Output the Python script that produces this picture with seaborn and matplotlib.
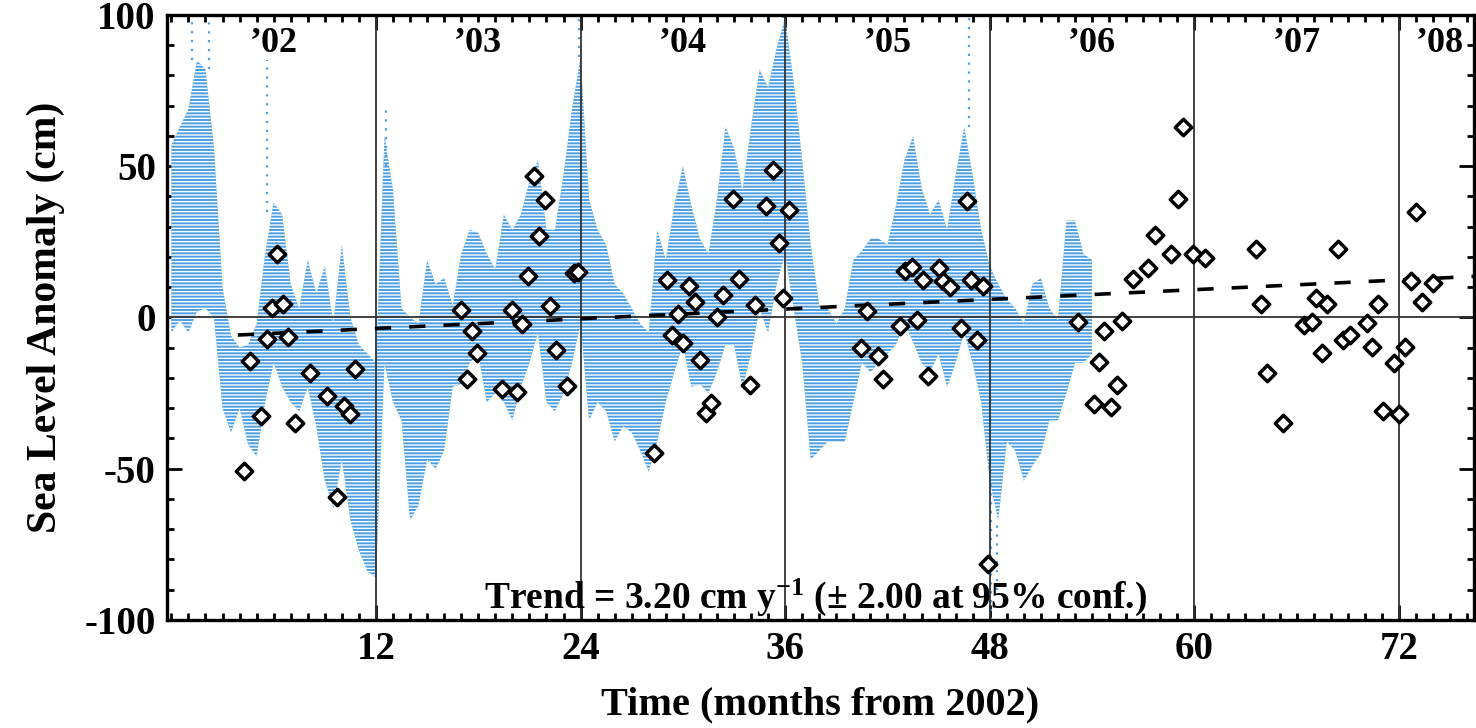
import matplotlib
matplotlib.use("Agg")
import matplotlib.pyplot as plt
import seaborn as sns
import numpy as np
import pandas as pd

# tide gauge cloud: rough lower / upper envelope read every half month (cm)
gauge_month = np.arange(0, 54.01, 0.5)
gauge_lo = [-5, -1, -5, 2, 3, 0, -30, -38, -30, -42, -46, -28, -15, -23, -28, -31,
            -23, -36, -54, -63, -47, -67, -77, -84, -86, -15, -28, -34, -67, -62,
            -47, -50, -44, -23, -22, -15, -12, -28, -25, -28, -34, -23, -15, -5,
            -28, -31, -25, -15, -2, -34, -28, -31, -41, -36, -38, -44, -51, -41,
            -28, -18, -9, -23, -22, -25, -18, -9, -9, -23, -12, 3, -5, 11,
            21, 3, -15, -47, -44, -41, -41, -41, -28, -15, -18, -15, -12, -9,
            -2, -8, -15, -18, -12, -23, -15, -5, -15, -28, -54, -67, -41, -44,
            -54, -49, -45, -34, -34, -25, -15, -15, -12]
gauge_hi = [57, 63, 69, 85, 82, 56, 10, -6, -10, -9, -2, 21, 38, 34, 11, 3,
            19, 8, 17, -2, 24, 0, -9, -12, -15, 60, 42, 3, 0, -2,
            19, 11, 13, 4, 21, 29, 28, 21, 16, 34, 29, 34, 45, 52,
            29, 29, 47, 69, 86, 39, 29, 24, 11, 8, 3, -2, -5, 29,
            19, 37, 50, 37, 26, 21, 39, 63, 56, 42, 63, 82, 76, 89,
            99, 78, 52, 24, 4, 3, -2, 3, 19, 22, 26, 26, 24, 37,
            52, 60, 43, 34, 39, 29, 47, 63, 47, 29, 17, 11, 6, 3,
            -2, 11, 13, 3, -1, 32, 32, 21, 19]

# isolated gauge readings outside the dense cloud (month, from, to)
spike_month = [1.2, 2.2, 5.6, 12.6, 23.9, 35.9, 46.8, 48.1, 48.4]
spike_lo = [85, 82, 35, 50, 86, 99, 63, -100, -90]
spike_hi = [100, 100, 85, 70, 100, 100, 100, -54, -67]

# altimetry points (month, cm)
alt_month = [4.26, 4.61, 5.24, 5.59, 5.88, 6.21, 6.56, 6.85, 7.24, 8.16, 9.14, 9.73,
             10.11, 10.46, 10.76, 16.97, 17.32, 17.65, 17.95, 19.4, 19.95, 20.25,
             20.55, 20.94, 21.29, 21.58, 21.91, 22.2, 22.56, 23.18, 23.61, 23.87,
             28.3, 29.05, 29.38, 29.73, 30.02, 30.36, 30.71, 31.0, 31.33, 31.68,
             31.98, 32.33, 32.95, 33.28, 33.93, 34.22, 34.87, 35.26, 35.66, 35.89,
             36.24, 40.45, 40.78, 41.42, 41.76, 42.73, 43.03, 43.42, 43.71, 44.1,
             44.4, 45.04, 45.27, 45.66, 46.31, 46.68, 46.93, 47.27, 47.58, 47.91,
             53.19, 54.13, 54.42, 54.72, 55.09, 55.44, 55.73, 56.41, 57.29, 57.72,
             58.62, 59.06, 59.35, 59.94, 60.62, 63.61, 63.9, 64.24, 65.21, 66.45,
             66.88, 67.12, 67.46, 67.8, 68.44, 68.74, 69.13, 70.11, 70.4, 70.75,
             71.05, 71.71, 72.02, 72.35, 72.68, 72.99, 73.36, 74.01]
alt_sla = [-50.7, -14.5, -32.6, -7.1, 3.0, 20.9, 4.4, -6.3, -34.9, -18.3, -26.1, -59.2,
           -29.3, -31.9, -17.0, 2.4, -20.3, -4.5, -11.9, -23.5, 2.4, -24.8,
           -2.1, 13.7, 46.9, 27.0, 39.0, 3.7, -10.9, -22.5, 14.7, 15.1,
           -44.9, 12.4, -5.8, 1.0, -8.5, 10.4, 5.0, -14.2, -31.5, -28.3,
           0.1, 7.3, 39.1, 12.8, -22.2, 4.0, 36.8, 48.7, 24.7, 6.3,
           35.5, -10.2, 2.0, -12.8, -20.3, -2.9, 15.3, 16.7, -0.8, 12.4,
           -19.4, 16.4, 12.1, 10.2, -3.4, 38.4, 12.5, -7.4, 10.5, -81.6,
           -1.5, -28.7, -14.7, -4.5, -29.7, -22.2, -1.2, 12.8, 16.3, 27.4,
           21.0, 39.1, 63.1, 20.9, 19.8, 22.7, 4.3, -18.4, -34.9, -2.5,
           -1.6, 6.5, -11.9, 4.5, 22.7, -7.6, -5.8, -1.7, -9.9, 4.3,
           -31.0, -14.9, -32.0, -9.9, 12.1, 34.8, 5.0, 11.5]

# linear trend (end points)
trend_month = [3.9, 76.5]
trend_sla = [-5.8, 13.6]

year_labels = ["\u201902", "\u201903", "\u201904", "\u201905", "\u201906", "\u201907", "\u201908"]
year_pos = [6, 18, 30, 42, 54, 66, 74.4]
year_lines = [12, 24, 36, 48, 60, 72]

sns.set_style("ticks")
plt.rcParams["font.family"] = ["Liberation Serif", "DejaVu Serif"]
plt.rcParams["font.weight"] = "bold"
plt.rcParams["mathtext.fontset"] = "custom"
plt.rcParams["mathtext.rm"] = "Liberation Serif:bold"
plt.rcParams["mathtext.default"] = "rm"
plt.rcParams["axes.unicode_minus"] = False
plt.rcParams["text.color"] = "black"
plt.rcParams["axes.labelcolor"] = "black"
plt.rcParams["axes.edgecolor"] = "black"
plt.rcParams["xtick.color"] = "black"
plt.rcParams["ytick.color"] = "black"
plt.rcParams["hatch.linewidth"] = 1.0

fig = plt.figure(figsize=(14.76, 7.28), dpi=100)
ax = fig.add_axes([0.1131, 0.1484, 0.8855, 0.831])

# gauge cloud
ax.fill_between(gauge_month, gauge_lo, gauge_hi, facecolor="#4C9FE2",
                edgecolor="white", hatch="-----", lw=0, zorder=1)
ax.vlines(spike_month, spike_lo, spike_hi, color="#4C9FE2", lw=1.6,
          linestyles=(0, (1, 3)), zorder=1)

# year separators and zero line
for m in year_lines:
    ax.axvline(m, color="#333333", lw=1.3, zorder=2)
ax.axhline(0, color="#333333", lw=1.3, zorder=2)

trend = pd.DataFrame({"month": trend_month, "sla": trend_sla})
sns.lineplot(data=trend, x="month", y="sla", ax=ax, color="black", lw=2.6,
             linestyle=(0, (4.5, 5.0)), zorder=3)

alt = pd.DataFrame({"month": alt_month, "sla": alt_sla})
sns.scatterplot(data=alt, x="month", y="sla", ax=ax, marker="D", s=70,
                facecolor="white", edgecolor="black", linewidth=2.5, zorder=4)

for lab, pos in zip(year_labels, year_pos):
    ax.text(pos, 90.5, lab, ha="center", va="center", fontsize=26, fontweight="bold")

ax.text(37.8, -92.5, "Trend = 3.20 cm y$^{-1}$ (\u00b1 2.00 at 95% conf.)",
        ha="center", va="center", fontsize=27, fontweight="bold", zorder=5)

ax.set_xlim(-0.26, 76.4)
ax.set_ylim(-100, 100)
ax.set_xticks([12, 24, 36, 48, 60, 72])
ax.set_xticks(np.arange(0, 77, 1), minor=True)
ax.set_yticks([-100, -50, 0, 50, 100])
ax.set_yticks(np.arange(-100, 101, 10), minor=True)
ax.tick_params(which="both", direction="in", top=True, right=True, width=2, labelsize=28)
ax.tick_params(which="major", length=11, pad=8)
ax.tick_params(which="minor", length=5)
for sp in ax.spines.values():
    sp.set_linewidth(2.4)

ax.set_xlabel("Time (months from 2002)", fontsize=29, fontweight="bold", labelpad=13)
ax.set_ylabel("Sea Level Anomaly (cm)", fontsize=30, fontweight="bold", labelpad=14)

fig.savefig("out.png", dpi=100)
